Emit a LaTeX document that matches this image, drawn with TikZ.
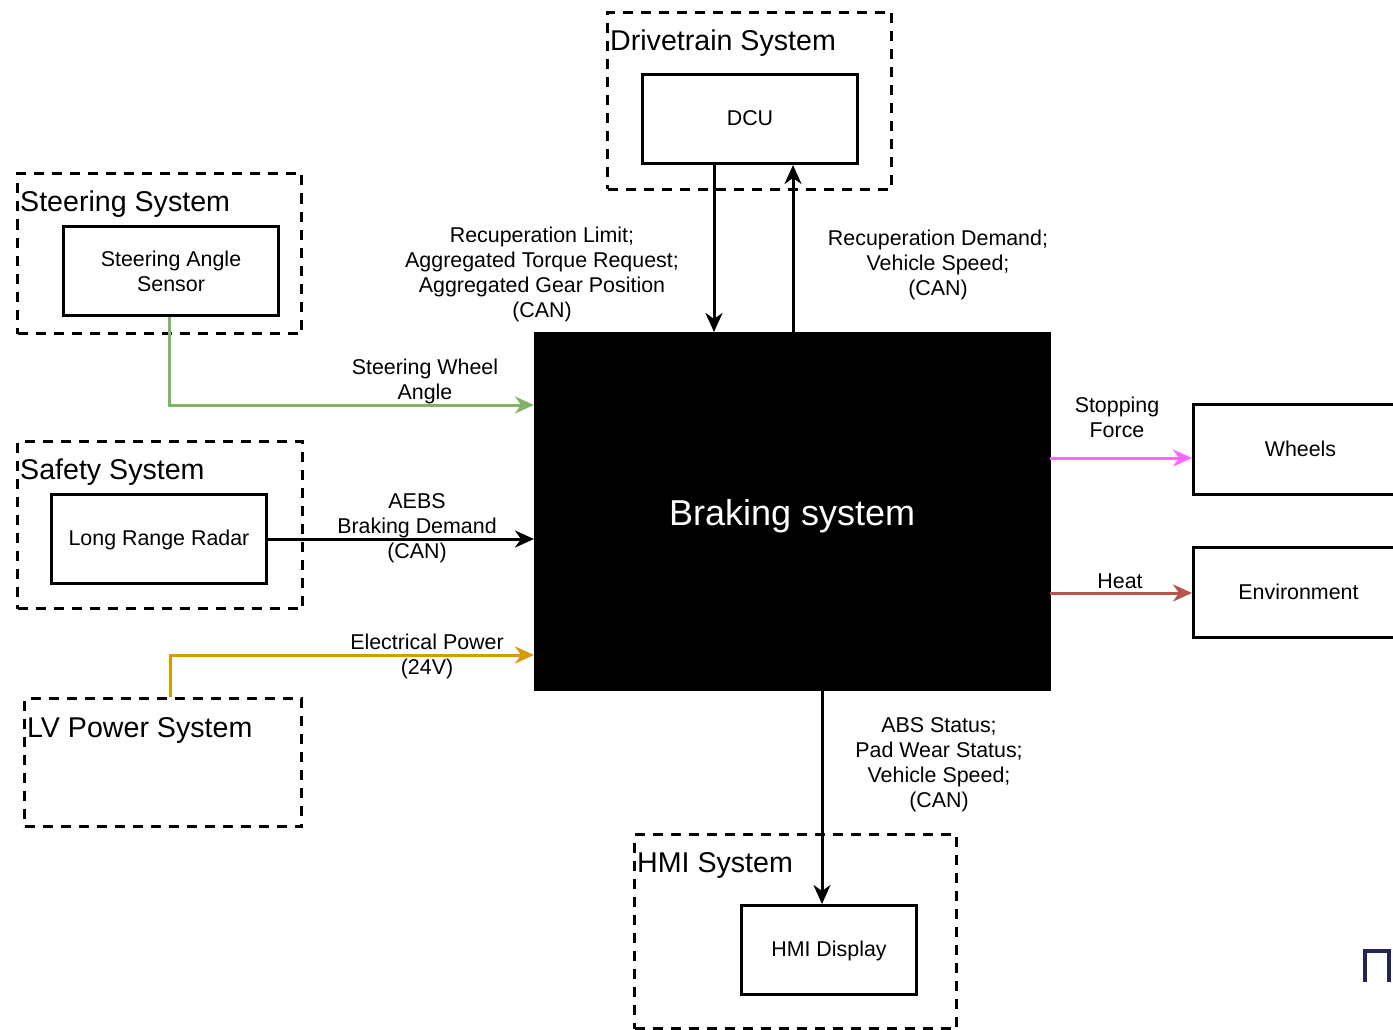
\documentclass[tikz,border=0pt]{standalone}
\usepackage{fontspec}
\setmainfont{Liberation Sans}
\usetikzlibrary{arrows.meta}
\definecolor{pgreen}{HTML}{82B366}
\definecolor{porange}{HTML}{D79B00}
\definecolor{ppink}{HTML}{FF66FF}
\definecolor{pred}{HTML}{B85450}
\definecolor{pnavy}{HTML}{25255A}
\begin{document}
\begin{tikzpicture}[x=1pt,y=-1pt,
  dashbox/.style={draw, line width=3pt, dash pattern=on 10pt off 8pt, anchor=north west, inner sep=0pt},
  solidbox/.style={draw, line width=3pt, anchor=north west, font=\fontsize{21.4}{25}\selectfont, align=center, text depth=2pt},
  conn/.style={line width=3pt, -{Stealth[length=19pt,width=17pt,inset=6pt]}},
  lbl/.style={font=\fontsize{21.4}{25}\selectfont, align=center, inner sep=0pt},
  ttl/.style={font=\fontsize{28.6}{30}\selectfont, anchor=west, inner sep=0pt}]
\useasboundingbox (0,0) rectangle (1393,1030);

% dashed system boxes
\node[dashbox, minimum width=284, minimum height=177] (drv) at (606,11) {};
\node[ttl] (drvt) at (610,43) {Drivetrain System};
\node[dashbox, minimum width=284, minimum height=160] (ste) at (16,172) {};
\node[ttl] (stet) at (20,204) {Steering System};
\node[dashbox, minimum width=285, minimum height=167] (saf) at (16,440) {};
\node[ttl] (saft) at (20,472) {Safety System};
\node[dashbox, minimum width=277, minimum height=128] (lvp) at (23,697) {};
\node[ttl] (lvpt) at (27,730) {LV Power System};
\node[dashbox, minimum width=322, minimum height=194] (hmis) at (633,833) {};
\node[ttl] (hmit) at (637,865) {HMI System};

% solid component boxes
\node[solidbox, minimum width=215, minimum height=89] (dcu) at (641,73) {DCU};
\node[solidbox, minimum width=215, minimum height=89, text depth=] (sas) at (62,225) {Steering Angle\\Sensor};
\node[solidbox, minimum width=215, minimum height=89] (lrr) at (50,493) {Long Range Radar};
\node[solidbox, minimum width=175, minimum height=89] (hmi) at (740,904) {HMI Display};
\node[solidbox, minimum width=214, minimum height=90] (whl) at (1192,403) {Wheels};
\node[solidbox, minimum width=210, minimum height=90] (env) at (1192,546) {Environment};

% braking system
\node[fill=black, draw=black, anchor=north west, minimum width=516, minimum height=358] (brk) at (534,332) {};
\node[text=white, font=\fontsize{36}{40}\selectfont, inner sep=0pt] (brkt) at ([yshift=-5pt]brk.center) {Braking system};

% connectors
\draw[conn] (714,0 |- dcu.south) -- (714,0 |- brk.north);
\draw[conn] (793,0 |- brk.north) -- (793,0 |- dcu.south);
\draw[conn, pgreen] (169,0 |- sas.south) |- (brk.west |- 0,405);
\draw[conn] (lrr.east) -- (brk.west |- lrr.east);
\draw[conn, porange] (170,0 |- lvp.north) |- (brk.west |- 0,655);
\draw[conn, ppink] (brk.east |- 0,458) -- (whl.west |- 0,458);
\draw[conn, pred] (brk.east |- 0,593) -- (env.west |- 0,593);
\draw[conn] (822,0 |- brk.south) -- (822,0 |- hmi.north);

% labels
\node[lbl] (l1) at (542,274) {Recuperation Limit;\\Aggregated Torque Request;\\Aggregated Gear Position\\(CAN)};
\node[lbl] (l2) at (938,265) {Recuperation Demand;\\Vehicle Speed;\\(CAN)};
\node[lbl] (l3) at (425,381) {Steering Wheel\\Angle};
\node[lbl] (l4) at (417,528) {AEBS\\Braking Demand\\(CAN)};
\node[lbl] (l5) at (427,656) {Electrical Power\\(24V)};
\node[lbl] (l6) at (1117,417) {Stopping\\Force};
\node[lbl] (l7) at (1120,581) {Heat};
\node[lbl] (l8) at (939,765) {ABS Status;\\Pad Wear Status;\\Vehicle Speed;\\(CAN)};

% cropped artifact at bottom right
\draw[pnavy, line width=3.5pt] (1365,982) -- (1365,951) -- (1389,951) -- (1389,982);
\end{tikzpicture}
\end{document}
